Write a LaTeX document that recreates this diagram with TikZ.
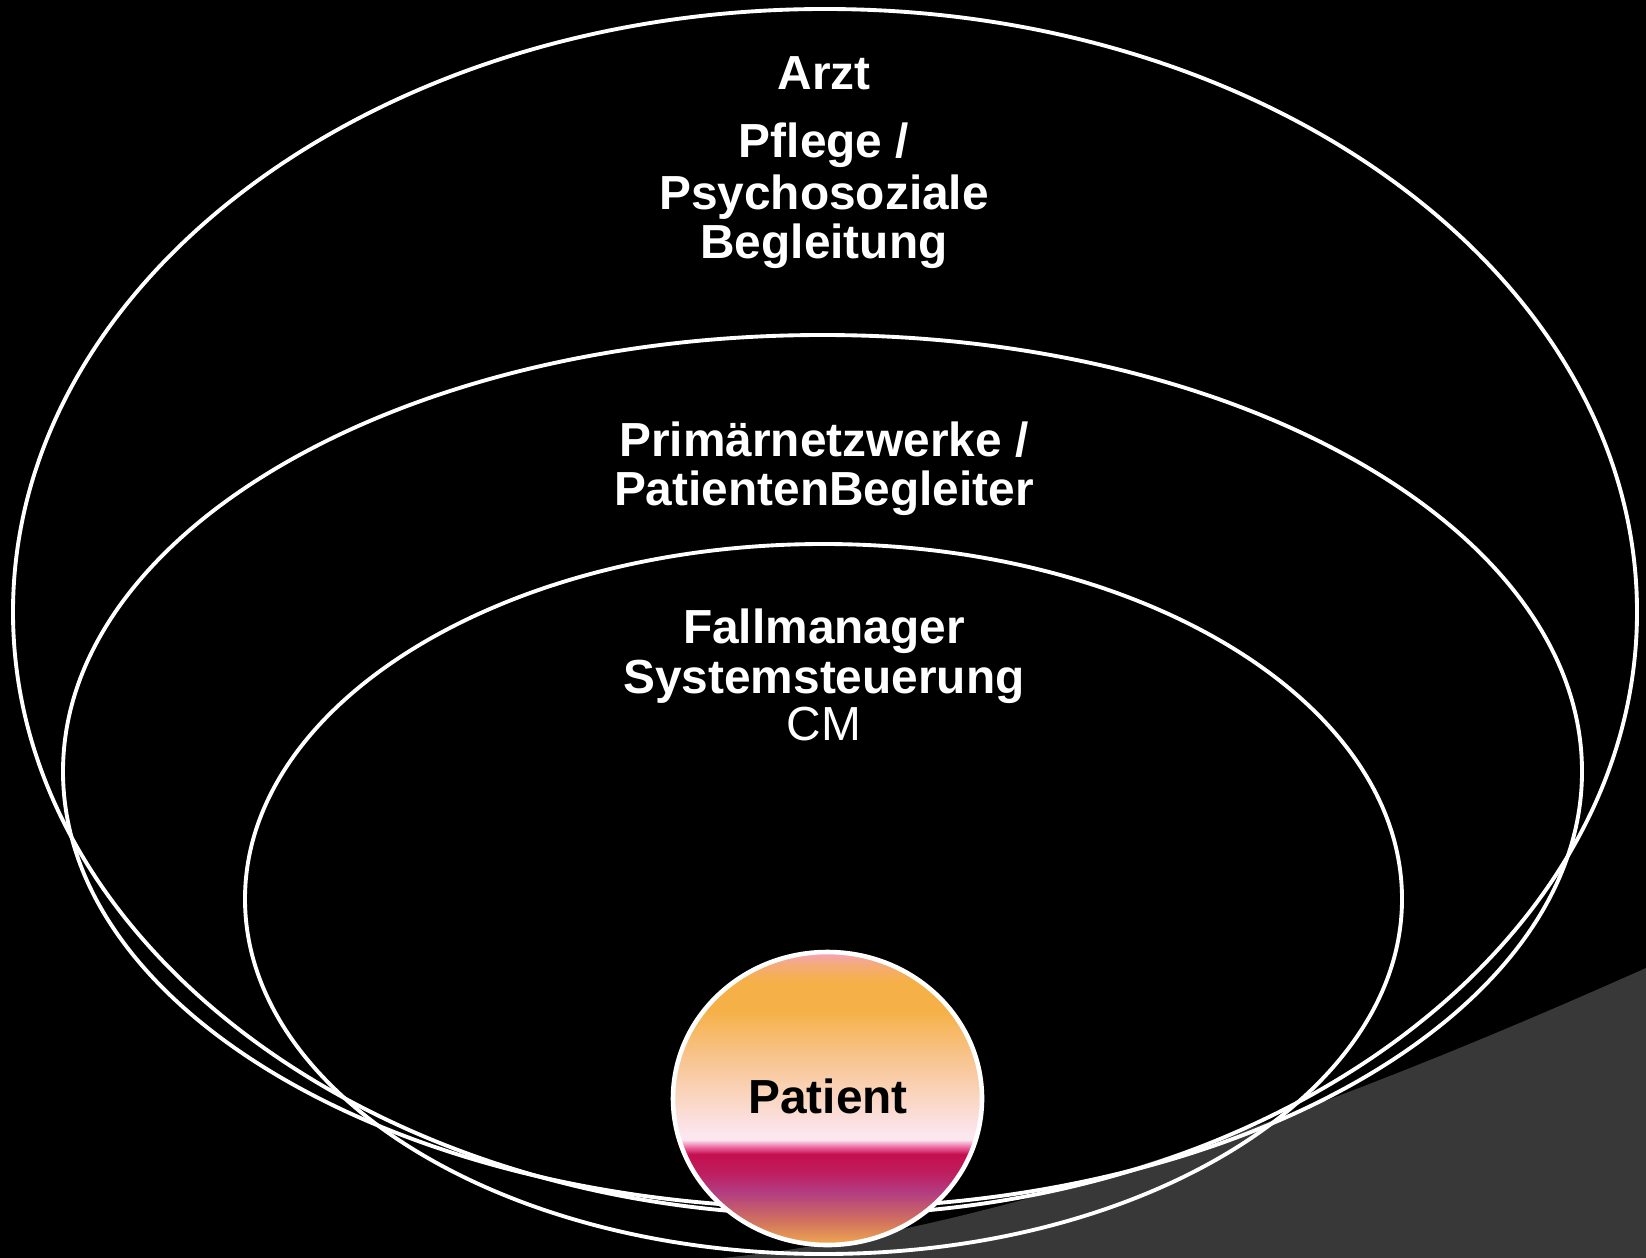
\documentclass[tikz,border=0pt]{standalone}
\usepackage{fontspec}
\setmainfont{Liberation Sans}
\definecolor{bggray}{HTML}{383838}
\definecolor{pOne}{HTML}{F6A2BF}
\definecolor{pTwo}{HTML}{F5AA7C}
\definecolor{pThree}{HTML}{F5B147}
\definecolor{pFour}{HTML}{F8C48E}
\definecolor{pFive}{HTML}{FAD6C3}
\definecolor{pSix}{HTML}{FCE3E8}
\definecolor{pSeven}{HTML}{FBE9F0}
\definecolor{pEight}{HTML}{EE6AA3}
\definecolor{pNine}{HTML}{C50F4F}
\definecolor{pTen}{HTML}{BE1D5E}
\definecolor{pEleven}{HTML}{B23D82}
\definecolor{pTwelve}{HTML}{D2735E}
\definecolor{pThirteen}{HTML}{F0AA50}
\pgfdeclareverticalshading{patshade}{100bp}{%
color(0bp)=(pThirteen); color(25bp)=(pThirteen); color(29bp)=(pTwelve);
color(34bp)=(pEleven); color(37.5bp)=(pTen); color(40.5bp)=(pNine);
color(41.75bp)=(pEight); color(43bp)=(pSeven); color(45bp)=(pSix);
color(50bp)=(pFive); color(57bp)=(pFour); color(65bp)=(pThree);
color(70bp)=(pThree); color(73bp)=(pTwo); color(75bp)=(pOne); color(100bp)=(pOne)}
\tikzset{
  ring/.style={draw=white, line width=1.1pt},
  lbl/.style={text=white, font=\fontsize{13.6}{14}\selectfont\bfseries, anchor=base, inner sep=0pt},
  lblreg/.style={text=white, font=\fontsize{13.6}{14}\selectfont, anchor=base, inner sep=0pt},
  patlbl/.style={text=black, font=\fontsize{13.6}{14}\selectfont\bfseries, anchor=base, inner sep=0pt}
}
\begin{document}
\begin{tikzpicture}[x=0.01cm, y=-0.01cm]
  \useasboundingbox (0,0) rectangle (1646,1258);
  \fill[black] (0,0) rectangle (1646,1258);
  % gray corner shape
  \fill[bggray] (700,1260) .. controls (1000,1235) and (1350,1100) .. (1646,968) -- (1646,1258) -- (700,1258) -- cycle;
  % rings
  \draw[ring] (825,612) ellipse [x radius=812, y radius=603];
  \draw[ring] (822.5,771.5) ellipse [x radius=759.5, y radius=436.5];
  \draw[ring] (823.5,899) ellipse [x radius=578.5, y radius=355];
  % patient
  \path[shading=patshade, draw=white, line width=1.3pt] (827.5,1098.5) ellipse [x radius=154.5, y radius=146.5];
  % labels
  \node[lbl] (arzt) at (824,90) {Arzt};
  \node[lbl] (pflegeA) at (824,158) {Pflege /};
  \node[lbl] (pflegeB) at (824,210) {Psychosoziale};
  \node[lbl] (pflegeC) at (824,259) {Begleitung};
  \node[lbl] (primA) at (824,456) {Primärnetzwerke /};
  \node[lbl] (primB) at (824,505) {PatientenBegleiter};
  \node[lbl] (fallA) at (824,643) {Fallmanager};
  \node[lbl] (fallB) at (824,693) {Systemsteuerung};
  \node[lblreg] (cm) at (824,740) {CM};
  \node[patlbl] (patient) at (828,1113) {Patient};
\end{tikzpicture}
\end{document}
